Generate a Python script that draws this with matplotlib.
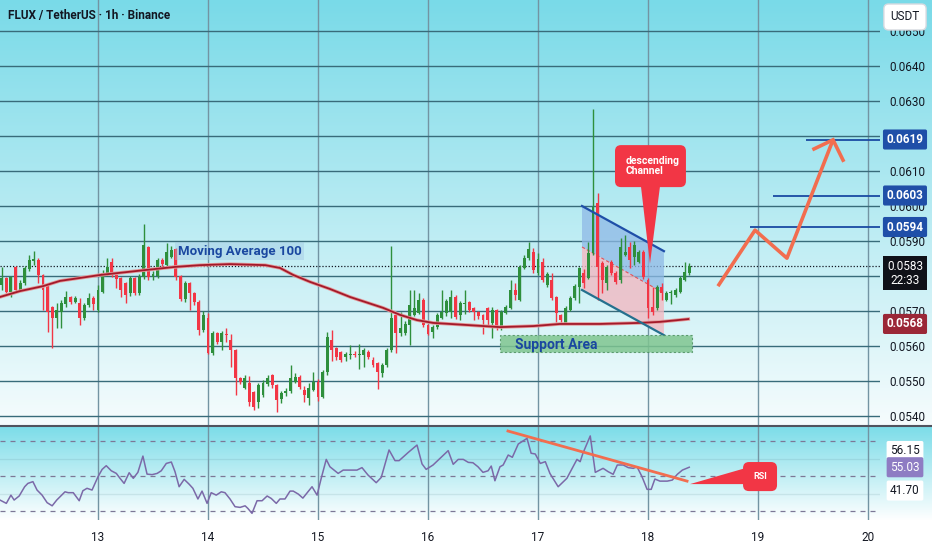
import numpy as np
import matplotlib
matplotlib.use("Agg")
import matplotlib.pyplot as plt
import matplotlib.transforms as mtransforms
import matplotlib.patheffects as pe
from matplotlib.patches import Polygon, Rectangle, FancyBboxPatch
from matplotlib.lines import Line2D

plt.rcParams['font.family'] = ['Roboto', 'DejaVu Sans']

# ---- data (FLUX/USDT 1h, Binance) ----
first_candle_day = 12.125      # 12th, 03:00
opens = [0.05774, 0.05794, 0.05754, 0.05826, 0.05760, 0.05780, 0.05820, 0.05843, 0.05846, 0.05803,
         0.05774, 0.05711, 0.05680, 0.05697, 0.05720, 0.05740, 0.05726, 0.05723, 0.05680, 0.05717,
         0.05737, 0.05703, 0.05754, 0.05803, 0.05840, 0.05803, 0.05794, 0.05780, 0.05751, 0.05794,
         0.05751, 0.05797, 0.05883, 0.05797, 0.05800, 0.05846, 0.05831, 0.05854, 0.05877, 0.05800,
         0.05734, 0.05780, 0.05751, 0.05726, 0.05646, 0.05680, 0.05580, 0.05637, 0.05611, 0.05634,
         0.05617, 0.05589, 0.05509, 0.05480, 0.05494, 0.05469, 0.05440, 0.05460, 0.05491, 0.05517,
         0.05489, 0.05449, 0.05466, 0.05471, 0.05497, 0.05511, 0.05474, 0.05451, 0.05474, 0.05497,
         0.05454, 0.05526, 0.05617, 0.05594, 0.05583, 0.05569, 0.05574, 0.05577, 0.05574, 0.05574,
         0.05583, 0.05560, 0.05551, 0.05523, 0.05546, 0.05589, 0.05689, 0.05637, 0.05637, 0.05660,
         0.05689, 0.05694, 0.05731, 0.05660, 0.05640, 0.05654, 0.05680, 0.05694, 0.05697, 0.05740,
         0.05689, 0.05720, 0.05726, 0.05709, 0.05697, 0.05689, 0.05709, 0.05666, 0.05703, 0.05651,
         0.05694, 0.05709, 0.05760, 0.05731, 0.05823, 0.05851, 0.05869, 0.05809, 0.05840, 0.05774,
         0.05789, 0.05740, 0.05689, 0.05666, 0.05703, 0.05737, 0.05769, 0.05809, 0.05794, 0.05866,
         0.06009, 0.05837, 0.05780, 0.05840, 0.05809, 0.05789, 0.05860, 0.05883, 0.05854, 0.05840,
         0.05869, 0.05789, 0.05711, 0.05709, 0.05769, 0.05731, 0.05751, 0.05746, 0.05754, 0.05789,
         0.05809]
highs = [0.05826, 0.05797, 0.05800, 0.05829, 0.05789, 0.05829, 0.05860, 0.05871, 0.05851, 0.05806,
         0.05777, 0.05714, 0.05723, 0.05731, 0.05757, 0.05743, 0.05743, 0.05737, 0.05723, 0.05751,
         0.05743, 0.05774, 0.05817, 0.05851, 0.05851, 0.05806, 0.05797, 0.05783, 0.05800, 0.05797,
         0.05806, 0.05949, 0.05886, 0.05814, 0.05851, 0.05851, 0.05894, 0.05886, 0.05880, 0.05803,
         0.05786, 0.05783, 0.05754, 0.05731, 0.05700, 0.05694, 0.05643, 0.05640, 0.05643, 0.05651,
         0.05634, 0.05591, 0.05511, 0.05517, 0.05514, 0.05471, 0.05494, 0.05503, 0.05517, 0.05520,
         0.05491, 0.05471, 0.05480, 0.05546, 0.05523, 0.05517, 0.05486, 0.05494, 0.05526, 0.05506,
         0.05531, 0.05640, 0.05646, 0.05597, 0.05586, 0.05583, 0.05603, 0.05586, 0.05606, 0.05594,
         0.05589, 0.05569, 0.05554, 0.05551, 0.05594, 0.05886, 0.05694, 0.05697, 0.05671, 0.05760,
         0.05760, 0.05751, 0.05737, 0.05663, 0.05660, 0.05694, 0.05760, 0.05734, 0.05760, 0.05746,
         0.05729, 0.05760, 0.05729, 0.05711, 0.05699, 0.05691, 0.05711, 0.05711, 0.05706, 0.05703,
         0.05717, 0.05789, 0.05780, 0.05831, 0.05860, 0.05897, 0.05880, 0.05866, 0.05851, 0.05811,
         0.05809, 0.05743, 0.05691, 0.05714, 0.05743, 0.05777, 0.05826, 0.05820, 0.05897, 0.06277,
         0.06037, 0.05843, 0.05831, 0.05846, 0.05814, 0.05909, 0.05917, 0.05897, 0.05900, 0.05874,
         0.05874, 0.05794, 0.05769, 0.05774, 0.05780, 0.05757, 0.05760, 0.05766, 0.05800, 0.05840,
         0.05837]
lows = [0.05760, 0.05751, 0.05740, 0.05754, 0.05757, 0.05774, 0.05814, 0.05831, 0.05780, 0.05703,
        0.05640, 0.05594, 0.05651, 0.05651, 0.05711, 0.05720, 0.05723, 0.05660, 0.05674, 0.05711,
        0.05703, 0.05697, 0.05751, 0.05800, 0.05797, 0.05766, 0.05740, 0.05723, 0.05743, 0.05746,
        0.05746, 0.05791, 0.05789, 0.05789, 0.05794, 0.05826, 0.05829, 0.05851, 0.05789, 0.05729,
        0.05726, 0.05703, 0.05717, 0.05631, 0.05640, 0.05577, 0.05574, 0.05606, 0.05589, 0.05611,
        0.05540, 0.05460, 0.05491, 0.05477, 0.05429, 0.05417, 0.05423, 0.05454, 0.05486, 0.05480,
        0.05411, 0.05437, 0.05457, 0.05466, 0.05494, 0.05477, 0.05440, 0.05431, 0.05471, 0.05443,
        0.05451, 0.05517, 0.05557, 0.05560, 0.05554, 0.05557, 0.05563, 0.05569, 0.05534, 0.05540,
        0.05563, 0.05540, 0.05477, 0.05511, 0.05540, 0.05583, 0.05580, 0.05629, 0.05631, 0.05603,
        0.05686, 0.05691, 0.05654, 0.05631, 0.05623, 0.05649, 0.05677, 0.05686, 0.05680, 0.05677,
        0.05674, 0.05691, 0.05697, 0.05674, 0.05677, 0.05634, 0.05660, 0.05623, 0.05646, 0.05646,
        0.05691, 0.05706, 0.05731, 0.05729, 0.05820, 0.05846, 0.05809, 0.05803, 0.05783, 0.05769,
        0.05731, 0.05669, 0.05666, 0.05663, 0.05700, 0.05731, 0.05723, 0.05766, 0.05791, 0.05860,
        0.05731, 0.05751, 0.05760, 0.05803, 0.05777, 0.05780, 0.05857, 0.05823, 0.05831, 0.05837,
        0.05791, 0.05680, 0.05689, 0.05703, 0.05731, 0.05729, 0.05720, 0.05740, 0.05751, 0.05786,
        0.05803]
closes = [0.05794, 0.05754, 0.05797, 0.05760, 0.05780, 0.05823, 0.05846, 0.05849, 0.05803, 0.05760,
          0.05697, 0.05680, 0.05703, 0.05723, 0.05740, 0.05726, 0.05737, 0.05680, 0.05717, 0.05737,
          0.05720, 0.05760, 0.05809, 0.05826, 0.05803, 0.05791, 0.05760, 0.05746, 0.05794, 0.05751,
          0.05797, 0.05889, 0.05797, 0.05806, 0.05846, 0.05834, 0.05869, 0.05874, 0.05797, 0.05734,
          0.05780, 0.05751, 0.05726, 0.05646, 0.05689, 0.05580, 0.05637, 0.05611, 0.05637, 0.05631,
          0.05589, 0.05509, 0.05497, 0.05509, 0.05440, 0.05426, 0.05489, 0.05494, 0.05509, 0.05489,
          0.05446, 0.05466, 0.05471, 0.05509, 0.05511, 0.05483, 0.05460, 0.05480, 0.05497, 0.05454,
          0.05526, 0.05626, 0.05589, 0.05569, 0.05560, 0.05577, 0.05577, 0.05574, 0.05577, 0.05589,
          0.05569, 0.05546, 0.05526, 0.05546, 0.05589, 0.05680, 0.05637, 0.05651, 0.05663, 0.05717,
          0.05709, 0.05731, 0.05660, 0.05634, 0.05654, 0.05689, 0.05697, 0.05729, 0.05740, 0.05683,
          0.05723, 0.05723, 0.05703, 0.05697, 0.05686, 0.05674, 0.05674, 0.05703, 0.05651, 0.05697,
          0.05711, 0.05760, 0.05746, 0.05826, 0.05851, 0.05877, 0.05817, 0.05849, 0.05789, 0.05806,
          0.05737, 0.05694, 0.05674, 0.05709, 0.05737, 0.05771, 0.05823, 0.05780, 0.05866, 0.05997,
          0.05826, 0.05789, 0.05826, 0.05809, 0.05783, 0.05883, 0.05869, 0.05846, 0.05889, 0.05869,
          0.05797, 0.05709, 0.05697, 0.05769, 0.05751, 0.05751, 0.05754, 0.05760, 0.05794, 0.05811,
          0.05830]

# moving average 100 (read at candle positions)
ma_pos = [-0.4, 4, 9, 12.7, 21.5, 31.3, 37.8, 43.3, 49.8, 57.5, 60.7, 63.6, 67.3, 71.6,
          76, 83.2, 86.9, 90.6, 94.1, 101.5, 108.7, 116, 121.8, 130.5, 139.3, 143.6, 149.8]
ma_vals = [0.05740, 0.05757, 0.05771, 0.05786, 0.05803, 0.05817, 0.05826, 0.05831, 0.05834,
           0.05831, 0.05823, 0.05803, 0.05783, 0.05763, 0.05740, 0.05709, 0.05689, 0.05674,
           0.05666, 0.05660, 0.05654, 0.05657, 0.05663, 0.05663, 0.05666, 0.05669, 0.05677]

# RSI (read at candle positions)
rsi_pos = [-0.4, 1, 2, 2.7, 3.8, 5, 5.7, 6.8, 7.7, 8.8, 9.9, 11, 12, 13.8, 14.5, 15.6, 16.9,
           17.7, 18.6, 19.7, 21, 21.9, 22.8, 23.9, 25, 25.8, 26.7, 27.8, 28.7, 29.7, 30.8,
           31.7, 32.8, 33.9, 34.8, 35.9, 37, 37.8, 38.7, 39.8, 40.9, 41.7, 42.8, 43.7, 44.8,
           45.7, 46.8, 47.9, 48.7, 49.8, 50.9, 52, 53.1, 53.7, 54.6, 55.7, 56.8, 57.9, 58.8,
           59.9, 60.7, 61.8, 62.9, 63.6, 64.7, 65.7, 67.7, 68.8, 69.7, 70.8, 71.6, 73.4, 74.5,
           77.5, 78.6, 79.9, 81.7, 82.8, 84.5, 85.8, 86.7, 88.7, 90.6, 91.7, 92.6, 94.1, 97.4,
           98.5, 99.6, 100.7, 101.8, 102.8, 103.9, 105, 106.1, 106.8, 107.6, 108.7, 109.4,
           110.5, 111.4, 112.7, 114.6, 115.5, 116.4, 117.5, 118.6, 119.6, 121.4, 123.3, 125.5,
           126.2, 126.8, 128.4, 129.5, 131.2, 132.3, 133.4, 134.3, 135.6, 136.7, 137.8, 138.6,
           139.7, 140.8, 141.7, 142.5, 143.6, 145.2, 146.3, 147.4, 148.5, 150]
rsi_vals = [36.3, 34.4, 39.1, 36.3, 38.6, 43.9, 45.8, 46.8, 42.0, 39.1, 34.8, 33.0, 36.3, 41.0,
            40.5, 40.5, 35.9, 41.6, 43.0, 42.0, 49.6, 53.8, 55.9, 53.0, 51.5, 48.7, 45.8, 51.9,
            48.7, 52.1, 61.4, 51.1, 50.8, 51.5, 53.0, 57.2, 58.0, 52.5, 43.9, 48.1, 45.3, 43.0,
            36.9, 41.4, 34.4, 40.5, 39.1, 41.0, 40.5, 36.9, 32.5, 32.1, 33.0, 31.5, 28.7, 35.9,
            35.9, 38.6, 37.2, 34.4, 36.9, 36.9, 41.4, 41.4, 39.7, 37.4, 43.9, 39.1, 48.7, 59.5,
            55.3, 51.5, 53.4, 53.4, 54.8, 50.6, 46.2, 49.2, 64.9, 58.8, 58.8, 63.5, 67.7, 56.9,
            53.8, 56.3, 64.5, 56.7, 59.5, 59.5, 57.8, 57.6, 55.3, 52.1, 53.0, 55.7, 47.3, 55.3,
            56.3, 62.0, 60.7, 68.3, 71.5, 63.0, 62.6, 57.2, 58.2, 51.5, 43.9, 48.7, 59.5, 58.2,
            63.0, 72.9, 52.1, 54.4, 52.5, 51.0, 56.3, 56.3, 54.8, 54.4, 55.3, 49.6, 42.4, 42.4,
            48.3, 47.1, 47.1, 47.7, 51.0, 53.4, 55.03]

day_ticks = [13, 14, 15, 16, 17, 18, 19, 20]
price_ticks = [0.054, 0.055, 0.056, 0.057, 0.058, 0.059, 0.060, 0.061, 0.062, 0.063, 0.064, 0.065]
hidden_ticks = [0.058, 0.062]          # covered by the price tags on the scale
last_price = 0.0583
ma_last = 0.0568
ma_tag_y = 0.05663                      # tag sits a little lower on the scale
targets = [0.0594, 0.0603, 0.0619]
target_start = [18.927, 19.136, 19.436]

# drawings
channel_x = [17.400, 18.145]
channel_top = [0.06000, 0.05871]
channel_mid = [0.05883, 0.05751]
channel_bot = [0.05760, 0.05631]
support_x = [16.655, 18.400]
support_y = [0.05583, 0.05631]
path_x = [18.636, 18.973, 19.263, 19.682]
path_y = [0.05771, 0.05931, 0.05851, 0.06189]
rsi_trend_x = [16.727, 18.355]
rsi_trend_y = [75.7, 47.1]

# ---- colours ----
GREEN = '#2e8f3c'
RED = '#f23645'
HGRID = (0.22, 0.42, 0.48, 0.12)
VGRID = (0.45, 0.58, 0.64, 0.2)
TXT = '#131722'
CORAL = '#f26d4f'

W, H = 932, 550
fig = plt.figure(figsize=(W / 100, H / 100), dpi=100)

# background gradient for both panes
bg = fig.add_axes([0, 0, 1, 1], zorder=-10)
img = np.ones((H, 1, 3))
c0, c1 = np.array([121, 218, 232]) / 255, np.array([246, 252, 253]) / 255
img[:426, 0, :] = c0 + (c1 - c0) * np.linspace(0, 1, 426)[:, None]
c2, c3 = np.array([125, 221, 233]) / 255, np.array([255, 255, 255]) / 255
img[427:521, 0, :] = c2 + (c3 - c2) * np.linspace(0, 1, 94)[:, None]
bg.imshow(img, aspect='auto', extent=[0, 1, 0, 1], interpolation='bilinear')
bg.axis('off')

x_left = 13 - 98 / 110
x_right = x_left + 880 / 110

ax = fig.add_axes([0, 1 - 425 / H, 880 / W, 425 / H])
rsi = fig.add_axes([0, 1 - 520 / H, 880 / W, 93 / H], sharex=ax)
for a in (ax, rsi):
    a.set_facecolor('none')
    for s in a.spines.values():
        s.set_visible(False)
ax.set_xlim(x_left, x_right)
ax.set_ylim(0.053743, 0.065886)
rsi.set_ylim(24.9, 78)

# grid
ax.set_xticks(day_ticks)
ax.set_yticks(price_ticks)
ax.grid(True, axis='y', color=HGRID, lw=1.0)
ax.grid(True, axis='x', color=VGRID, lw=1.0)
ax.tick_params(axis='x', length=0, labelbottom=False)
ax.yaxis.tick_right()
ax.tick_params(axis='y', length=0, pad=7, labelsize=8.5, labelcolor=TXT)
ax.set_yticklabels(['' if p in hidden_ticks else '%.4f' % p for p in price_ticks])
rsi.grid(True, axis='x', color=VGRID, lw=1.0)
rsi.set_yticks([])
rsi.tick_params(axis='x', length=0, pad=8, labelsize=8.5, labelcolor=TXT)
rsi.set_xticks(day_ticks)
rsi.set_xticklabels([str(d) for d in day_ticks])

# candles
o, h, l, c = map(np.array, (opens, highs, lows, closes))
x = first_candle_day + np.arange(len(c)) / 24
col = np.where(c >= o, GREEN, RED)
ax.vlines(x, l, h, colors=col, lw=1, zorder=3)
ax.bar(x, np.maximum(np.abs(c - o), 0.00003), bottom=np.minimum(o, c), width=0.027,
       color=col, lw=0, zorder=3)

# moving average
ax.plot(first_candle_day + np.array(ma_pos) / 24, ma_vals, color='#a3192a', lw=1.3, zorder=4,
        path_effects=[pe.Stroke(linewidth=2.5, foreground='#e49a9a'), pe.Normal()])
ax.text(13.727, 0.05871, 'Moving Average 100', color='#1a47a0', fontsize=9.5, fontweight='bold',
        va='center', zorder=6,
        bbox=dict(boxstyle='square,pad=0.2', fc='#9fc3e0', ec='none', alpha=0.4))

# last price line
ax.axhline(last_price, color=TXT, lw=0.9, ls=(0, (1, 1.5)), zorder=2)

# descending channel
ax.add_patch(Polygon([(channel_x[0], channel_top[0]), (channel_x[1], channel_top[1]),
                      (channel_x[1], channel_mid[1]), (channel_x[0], channel_mid[0])],
                     closed=True, fc='#8fb9e6', ec='none', alpha=0.75, zorder=2))
ax.add_patch(Polygon([(channel_x[0], channel_mid[0]), (channel_x[1], channel_mid[1]),
                      (channel_x[1], channel_bot[1]), (channel_x[0], channel_bot[0])],
                     closed=True, fc='#f2b9c2', ec='none', alpha=0.8, zorder=2))
ax.plot(channel_x, channel_top, color='#1f4fa8', lw=1.6, zorder=5)
ax.plot(channel_x, channel_bot, color='#24708e', lw=1.6, zorder=5)
ax.plot(channel_x, channel_mid, color='#e0525a', lw=0.8, ls=(0, (3, 2)), zorder=2)

# support area
ax.add_patch(Rectangle((support_x[0], support_y[0]), support_x[1] - support_x[0],
                       support_y[1] - support_y[0], fc='#7fc590', ec='#4c8f5f', lw=0.8,
                       ls=(0, (2, 2)), alpha=0.85, zorder=5))
ax.text(16.791, 0.05603, 'Support Area', color='#1a47a0', fontsize=10, fontweight='bold',
        va='center', zorder=6)


def rounded_box(axis, x0, x1, y0, y1, color, r_px=6):
    xr = (axis.get_xlim()[1] - axis.get_xlim()[0]) / axis.bbox.width
    yr = (axis.get_ylim()[1] - axis.get_ylim()[0]) / axis.bbox.height
    axis.add_patch(FancyBboxPatch((x0, y0), x1 - x0, y1 - y0,
                                  boxstyle='round,pad=0,rounding_size=%f' % (r_px * xr),
                                  mutation_aspect=yr / xr, fc=color, ec='none', zorder=7))


# "descending Channel" callout
rounded_box(ax, 17.700, 18.345, 0.06054, 0.06174, RED)
ax.add_patch(Polygon([(17.936, 0.06056), (18.109, 0.06056), (18.018, 0.05835)],
                     closed=True, fc=RED, ec='none', zorder=7))
ax.text(17.80, 0.06114, 'descending\nChannel', color='white', fontsize=7.5, fontweight='bold',
        va='center', ha='left', linespacing=1.0, zorder=8)

# targets and projected path
for ty, tx in zip(targets, target_start):
    ax.hlines(ty, tx, x_right, color='#1a4aa3', lw=1.3, zorder=5)
ax.plot(path_x, path_y, color=CORAL, lw=2.6, solid_capstyle='butt', zorder=6)
ax.plot([19.509, path_x[-1], 19.773], [0.06163, path_y[-1], 0.06131], color=CORAL, lw=2.6,
        solid_joinstyle='miter', zorder=6)

# RSI pane
for lvl in (70, 50, 30):
    rsi.axhline(lvl, color='#7c7896', lw=0.9, ls=(0, (4, 4)), zorder=2)
for lvl in (60, 40):
    rsi.axhline(lvl, color=HGRID, lw=1.0, zorder=1)
rsi.plot(first_candle_day + np.array(rsi_pos) / 24, rsi_vals, color='#7b69a8', lw=1.1, zorder=4)
rsi.plot(rsi_trend_x, rsi_trend_y, color=CORAL, lw=2.0, zorder=5)
rounded_box(rsi, 18.864, 19.173, 41.4, 58.0, RED)
rsi.add_patch(Polygon([(18.382, 45.4), (18.89, 54.6), (18.89, 45.4)], closed=True, fc=RED,
                      ec='none', zorder=7))
rsi.text(19.018, 49.8, 'RSI', color='white', fontsize=6.5, fontweight='bold', ha='center',
         va='center', zorder=8)


# price-scale tags
def tag(axis, y, s, fc, tc, bold=True):
    tr = mtransforms.blended_transform_factory(axis.transAxes, axis.transData)
    axis.text(905 / 880, y, s, transform=tr, ha='center', va='center', color=tc, fontsize=8.5,
              fontweight='bold' if bold else 'normal', clip_on=False, zorder=10,
              bbox=dict(boxstyle='round,pad=0.3,rounding_size=0.15', fc=fc, ec='none'))


for ty in targets:
    tag(ax, ty, '%.4f' % ty, '#1f4fa8', 'white')
tag(ax, ma_tag_y, '%.4f' % ma_last, '#9b2737', 'white')
tr = mtransforms.blended_transform_factory(ax.transAxes, ax.transData)
ax.annotate('%.4f\n22:33' % last_price, xy=(905 / 880, last_price), xycoords=tr,
            xytext=(0, 6), textcoords='offset pixels', ha='center', va='top', color='white',
            fontsize=8.5, linespacing=1.1, annotation_clip=False, zorder=10,
            bbox=dict(boxstyle='square,pad=0.3', fc='#0f1118', ec='none'))
tag(rsi, 64.3, '56.15', 'white', TXT, bold=False)
tag(rsi, 55.03, '55.03', '#8e7cc3', 'white', bold=False)
tag(rsi, 41.7, '41.70', 'white', TXT, bold=False)

# pane separator, title, currency
fig.add_artist(Line2D([0, 1], [1 - 426 / H, 1 - 426 / H], color='#50535e', lw=1.5))
fig.text(8 / W, 1 - 16 / H, 'FLUX / TetherUS · 1h · Binance', fontsize=8.5, fontweight='bold',
         color=TXT, va='center', ha='left')
fig.text(905 / W, 1 - 17 / H, 'USDT', fontsize=8.5, color=TXT, ha='center', va='center',
         bbox=dict(boxstyle='round,pad=0.55,rounding_size=0.4', fc='white', ec='#d6dae0'))

fig.savefig('out.png', dpi=100)
